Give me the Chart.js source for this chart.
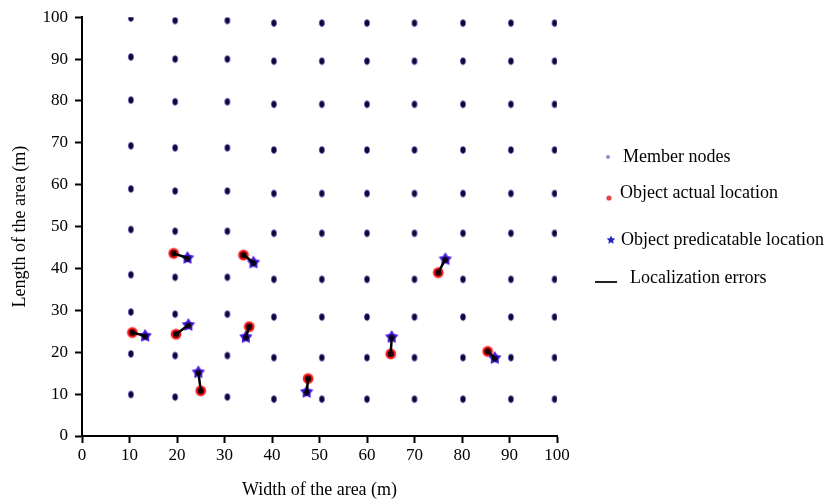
<!DOCTYPE html>
<html>
<head>
<meta charset="utf-8">
<script src="https://cdn.jsdelivr.net/npm/chart.js@4"></script>
<style>
  html, body { margin: 0; padding: 0; background: #fff; }
  #wrap { width: 832px; height: 504px; position: relative; }
</style>
</head>
<body>
<div id="wrap"><canvas id="areaChart"></canvas></div>
<script>
// member node grid, x per column and y per row/column (m)
const colX = [10.3, 19.6, 30.6, 40.4, 50.5, 60.0, 70.0, 80.2, 90.3, 99.5];
const nodeRows = [
  [99.8, 99.2, 99.2, 98.6, 98.6, 98.6, 98.6, 98.6, 98.6, 98.6],
  [90.5, 90.0, 90.0, 89.5, 89.5, 89.5, 89.5, 89.5, 89.5, 89.5],
  [80.2, 79.8, 79.8, 79.2, 79.2, 79.2, 79.2, 79.2, 79.2, 79.2],
  [69.3, 68.8, 68.8, 68.3, 68.3, 68.3, 68.3, 68.3, 68.3, 68.3],
  [59.0, 58.5, 58.5, 57.9, 57.9, 57.9, 57.9, 57.9, 57.9, 57.9],
  [49.3, 48.9, 48.9, 48.4, 48.4, 48.4, 48.4, 48.4, 48.4, 48.4],
  [38.5, 37.9, 37.9, 37.4, 37.4, 37.4, 37.4, 37.4, 37.4, 37.4],
  [29.6, 29.1, 29.1, 28.4, 28.4, 28.4, 28.4, 28.4, 28.4, 28.4],
  [19.6, 19.2, 19.2, 18.7, 18.7, 18.7, 18.7, 18.7, 18.7, 18.7],
  [9.9, 9.3, 9.3, 8.8, 8.8, 8.8, 8.8, 8.8, 8.8, 8.8]
];

// objects: actual vs predicted location
const actualX = [19.3, 34.0, 10.6, 19.8, 35.2, 25.0, 47.6, 65.0, 75.0, 85.4];
const actualY = [43.6, 43.2, 24.7, 24.3, 26.1, 10.8, 13.7, 19.6, 39.0, 20.2];
const predX = [22.2, 36.1, 13.3, 22.4, 34.5, 24.5, 47.3, 65.2, 76.5, 86.9];
const predY = [42.5, 41.4, 23.9, 26.5, 23.6, 15.2, 10.5, 23.6, 42.2, 18.6];

const legendLabels = ['Member nodes', 'Object actual location', 'Object predicatable location', 'Localization errors'];

// little marker images
function nodeImg() {
  const c = document.createElement('canvas');
  c.width = 8; c.height = 10;
  const g = c.getContext('2d');
  g.beginPath();
  g.ellipse(4, 5, 2.6, 3.4, 0, 0, Math.PI * 2);
  g.fillStyle = '#0b0a2e';
  g.fill();
  g.lineWidth = 0.8;
  g.strokeStyle = 'rgba(90,70,220,0.7)';
  g.stroke();
  return c;
}

function starPath(g, cx, cy, ro, ri) {
  g.beginPath();
  for (let i = 0; i < 10; i++) {
    const r = i % 2 ? ri : ro;
    const a = -Math.PI / 2 + i * Math.PI / 5;
    g.lineTo(cx + r * Math.cos(a), cy + r * Math.sin(a));
  }
  g.closePath();
}

function starImg() {
  const c = document.createElement('canvas');
  c.width = 16; c.height = 16;
  const g = c.getContext('2d');
  starPath(g, 8, 8, 7, 4);
  g.fillStyle = '#4a18e0';
  g.fill();
  g.beginPath();
  g.arc(8, 8.5, 3, 0, Math.PI * 2);
  g.fillStyle = '#0a0520';
  g.fill();
  return c;
}

function actualImg() {
  const c = document.createElement('canvas');
  c.width = 14; c.height = 14;
  const g = c.getContext('2d');
  g.beginPath();
  g.arc(7, 7, 5.4, 0, Math.PI * 2);
  g.fillStyle = '#ff1a1a';
  g.fill();
  g.beginPath();
  g.arc(7, 7, 3.2, 0, Math.PI * 2);
  g.fillStyle = '#200008';
  g.fill();
  return c;
}

const nodePoints = [];
nodeRows.forEach(row => row.forEach((y, i) => nodePoints.push({ x: colX[i], y: y })));

const errorSets = actualX.map((x, i) => ({
  type: 'line',
  data: [{ x: x, y: actualY[i] }, { x: predX[i], y: predY[i] }],
  borderColor: '#000',
  borderWidth: 2.5,
  pointRadius: 0,
  showLine: true,
  fill: false,
  order: 0
}));

const legendPlugin = {
  id: 'sideLegend',
  afterDraw(chart) {
    const ctx = chart.ctx;
    ctx.save();
    ctx.font = '18px "Liberation Serif", serif';
    ctx.fillStyle = '#000';
    ctx.textAlign = 'left';
    ctx.textBaseline = 'middle';

    // member nodes
    ctx.beginPath();
    ctx.arc(608, 157, 2, 0, Math.PI * 2);
    ctx.fillStyle = '#8c8cd0';
    ctx.fill();
    ctx.fillStyle = '#000';
    ctx.fillText(legendLabels[0], 623, 157);

    // actual location
    ctx.beginPath();
    ctx.arc(609, 198, 2.6, 0, Math.PI * 2);
    ctx.fillStyle = '#e04848';
    ctx.fill();
    ctx.fillStyle = '#000';
    ctx.fillText(legendLabels[1], 620, 193);

    // predicted location
    starPath(ctx, 611, 240, 4.5, 2.2);
    ctx.fillStyle = '#2a22c0';
    ctx.fill();
    ctx.fillStyle = '#000';
    ctx.fillText(legendLabels[2], 621, 240);

    // error line
    ctx.beginPath();
    ctx.moveTo(595, 282);
    ctx.lineTo(617, 282);
    ctx.lineWidth = 2;
    ctx.strokeStyle = '#222';
    ctx.stroke();
    ctx.fillText(legendLabels[3], 630, 278);
    ctx.restore();
  }
};

Chart.defaults.font.family = '"Liberation Serif", "Times New Roman", serif';
Chart.defaults.color = '#000';

const ctx = document.getElementById('areaChart').getContext('2d');
new Chart(ctx, {
  type: 'scatter',
  data: {
    datasets: [
      ...errorSets,
      { label: legendLabels[2], data: predX.map((x, i) => ({ x: x, y: predY[i] })), pointStyle: starImg(), order: 1 },
      { label: legendLabels[1], data: actualX.map((x, i) => ({ x: x, y: actualY[i] })), pointStyle: actualImg(), order: 2 },
      { label: legendLabels[0], data: nodePoints, pointStyle: nodeImg(), order: 3 }
    ]
  },
  options: {
    responsive: true,
    maintainAspectRatio: false,
    animation: false,
    layout: { padding: { left: 0, top: 15, right: 275, bottom: 0 } },
    plugins: { legend: { display: false }, tooltip: { enabled: false } },
    scales: {
      x: {
        type: 'linear', min: 0, max: 100,
        ticks: { stepSize: 10, font: { size: 17 }, color: '#000', padding: 2, maxRotation: 0 },
        grid: { drawOnChartArea: false, tickLength: 7, tickWidth: 2, tickColor: '#000' },
        border: { color: '#000', width: 2 },
        title: { display: true, text: 'Width of the area (m)', font: { size: 18 }, color: '#000', padding: { top: 0, bottom: 3 } },
        afterFit(s) { s.height = 68; }
      },
      y: {
        type: 'linear', min: 0, max: 100,
        ticks: { stepSize: 10, font: { size: 17 }, color: '#000', padding: 7 },
        grid: { drawOnChartArea: false, tickLength: 7, tickWidth: 2, tickColor: '#000' },
        border: { color: '#000', width: 2 },
        title: { display: true, text: 'Length of the area (m)', font: { size: 18 }, color: '#000', padding: { top: 9, bottom: 0 } },
        afterFit(s) { s.width = 82; }
      }
    }
  },
  plugins: [legendPlugin]
});
</script>
</body>
</html>
